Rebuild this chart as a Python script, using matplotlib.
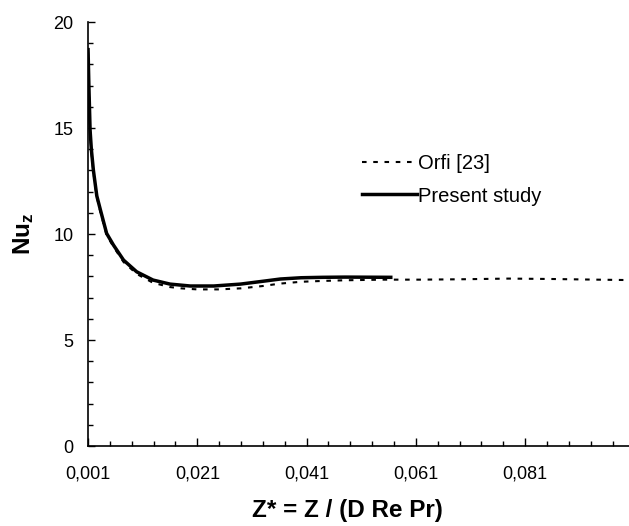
import matplotlib
matplotlib.use('Agg')
import matplotlib.pyplot as plt
from matplotlib.ticker import FixedLocator, MultipleLocator

plt.rcParams['font.family'] = ['Liberation Sans', 'DejaVu Sans']
plt.rcParams['mathtext.fontset'] = 'custom'
plt.rcParams['mathtext.rm'] = 'Liberation Sans'
plt.rcParams['mathtext.bf'] = 'Liberation Sans:bold'

# Orfi [23] reference data
orfi_z = [0.001, 0.00115, 0.00137, 0.0016, 0.00198, 0.0026, 0.0033, 0.0044, 0.00565,
          0.0075, 0.0099, 0.0129, 0.016, 0.018, 0.021, 0.025, 0.029, 0.033,
          0.036, 0.040, 0.044, 0.048, 0.055, 0.062, 0.070, 0.078, 0.086, 0.094, 0.100]
orfi_nu = [18.6, 16.9, 14.85, 13.9, 12.9, 11.75, 11.0, 9.95, 9.4,
           8.68, 8.12, 7.7, 7.5, 7.44, 7.39, 7.39, 7.44, 7.55,
           7.66, 7.75, 7.79, 7.82, 7.85, 7.85, 7.87, 7.9, 7.88, 7.85, 7.83]

# present study
present_z = [0.001, 0.00115, 0.00137, 0.0016, 0.00198, 0.0026, 0.0033, 0.0044, 0.00565,
             0.0075, 0.0099, 0.0129, 0.016, 0.0197, 0.024, 0.0289, 0.0338, 0.0362,
             0.040, 0.044, 0.048, 0.0564]
present_nu = [18.7, 17.0, 14.9, 14.0, 13.0, 11.8, 11.1, 10.03, 9.48,
              8.77, 8.22, 7.83, 7.64, 7.55, 7.55, 7.64, 7.8, 7.88,
              7.94, 7.96, 7.97, 7.96]

xticks = [0.001, 0.021, 0.041, 0.061, 0.081]
xtick_labels = ["0,001", "0,021", "0,041", "0,061", "0,081"]
yticks = [0, 5, 10, 15, 20]

fig = plt.figure(figsize=(6.29, 5.26), dpi=100)
ax = fig.add_axes([0.14, 0.152, 0.86, 0.806])

ax.plot(orfi_z, orfi_nu, color='black', lw=1.5, ls=(0, (2.2, 3.2)), label='Orfi [23]')
ax.plot(present_z, present_nu, color='black', lw=2.5, label='Present study')

ax.set_xlim(0.001, 0.1)
ax.set_ylim(0, 20)
ax.xaxis.set_major_locator(FixedLocator(xticks))
ax.set_xticklabels(xtick_labels)
ax.xaxis.set_minor_locator(FixedLocator([0.001 + 0.004 * i for i in range(25)]))
ax.set_yticks(yticks)
ax.yaxis.set_minor_locator(MultipleLocator(1))

for s in ['top', 'right']:
    ax.spines[s].set_visible(False)
for s in ['left', 'bottom']:
    ax.spines[s].set_linewidth(1.2)

ax.tick_params(which='both', direction='in', width=1.0, labelsize=13)
ax.tick_params(axis='x', which='major', length=6, pad=14)
ax.tick_params(axis='x', which='minor', length=3.5)
ax.tick_params(axis='y', which='major', length=5, pad=10.5)
ax.tick_params(axis='y', which='minor', length=3.5)

ax.set_xlabel('Z* = Z / (D Re Pr)', fontsize=17.5, fontweight='bold')
ax.xaxis.set_label_coords(0.479, -0.125)
ax.set_ylabel(r'$\mathbf{Nu_z}$', fontsize=17.5)
ax.yaxis.set_label_coords(-0.097, 0.5)

ax.legend(loc='upper left', bbox_to_anchor=(0.488, 0.713), frameon=False,
          fontsize=14.5, handlelength=2.75, handletextpad=0.05, labelspacing=0.68,
          borderpad=0)

fig.savefig('out.png', dpi=100)
